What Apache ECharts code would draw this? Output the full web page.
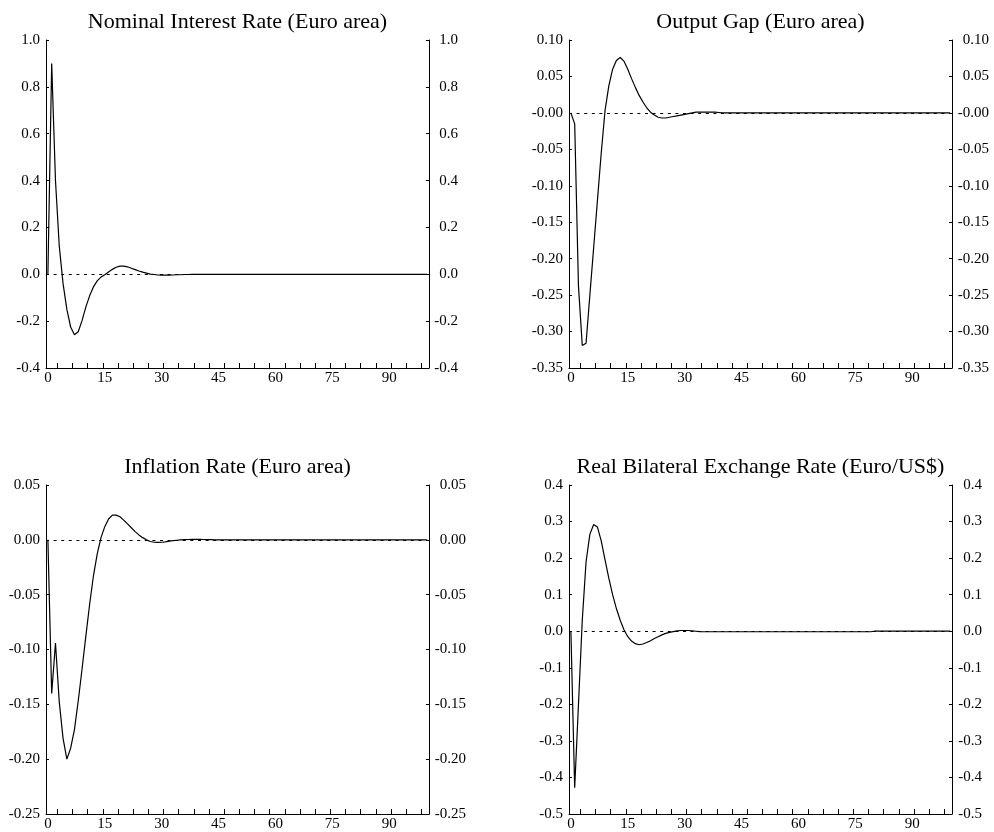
<!DOCTYPE html>
<html>
<head>
<meta charset="utf-8">
<title>Impulse responses</title>
<script src="https://cdn.jsdelivr.net/npm/echarts@6/dist/echarts.min.js"></script>
<style>
html, body { margin: 0; padding: 0; background: #fff; }
#chart { width: 994px; height: 832px; }
</style>
</head>
<body>
<div id="chart"></div>
<script>
// periods 0..100
const periods = Array.from({ length: 101 }, (_, i) => i);
const xLabels = [0, 15, 30, 45, 60, 75, 90];
const xTicks = [2.5, 6.5, 10.5, 14.5, 18.5, 22.5, 26.5, 30.5, 34.5, 38.5, 42.5, 46.5, 50.5,
  54.5, 58.5, 62.5, 66.5, 70.5, 74.5, 78.5, 82.5, 86.5, 90.5, 94.5, 98.5];

const interestRate = [0, 0.90, 0.40, 0.12, -0.04, -0.15, -0.225, -0.258, -0.245, -0.198,
  -0.14, -0.092, -0.054, -0.028, -0.012, -0.002, 0.01, 0.021, 0.03, 0.035,
  0.035, 0.032, 0.026, 0.02, 0.014, 0.009, 0.005, 0.001, -0.001, -0.003,
  -0.004, -0.004, -0.004, -0.003, -0.002, -0.002, -0.001, -0.001, 0, 0,
  0, 0, 0, 0, 0, 0, 0, 0, 0, 0,
  0, 0, 0, 0, 0, 0, 0, 0, 0, 0,
  0, 0, 0, 0, 0, 0, 0, 0, 0, 0,
  0, 0, 0, 0, 0, 0, 0, 0, 0, 0,
  0, 0, 0, 0, 0, 0, 0, 0, 0, 0,
  0, 0, 0, 0, 0, 0, 0, 0, 0, 0, 0];

const outputGap = [0, -0.015, -0.238, -0.319, -0.316, -0.25, -0.185, -0.12, -0.055, 0.003,
  0.037, 0.06, 0.072, 0.076, 0.071, 0.06, 0.047, 0.035, 0.024, 0.015,
  0.007, 0.001, -0.003, -0.006, -0.007, -0.007, -0.006, -0.005, -0.004, -0.003,
  -0.002, -0.001, 0, 0.001, 0.001, 0.001, 0.001, 0.001, 0.001, 0.0005,
  0, 0, 0, 0, 0, 0, 0, 0, 0, 0,
  0, 0, 0, 0, 0, 0, 0, 0, 0, 0,
  0, 0, 0, 0, 0, 0, 0, 0, 0, 0,
  0, 0, 0, 0, 0, 0, 0, 0, 0, 0,
  0, 0, 0, 0, 0, 0, 0, 0, 0, 0,
  0, 0, 0, 0, 0, 0, 0, 0, 0, 0, 0];

const inflation = [0, -0.14, -0.094, -0.148, -0.181, -0.2, -0.19, -0.173, -0.147, -0.118,
  -0.088, -0.059, -0.033, -0.013, 0.002, 0.012, 0.019, 0.0225, 0.0225, 0.021,
  0.018, 0.0145, 0.011, 0.0075, 0.0045, 0.002, 0, -0.0015, -0.0022, -0.0024,
  -0.0022, -0.0018, -0.0013, -0.0008, -0.0004, -0.0001, 0.0001, 0.0003, 0.0004, 0.0004,
  0.0004, 0.0003, 0.0002, 0.0001, 0, 0, 0, 0, 0, 0,
  0, 0, 0, 0, 0, 0, 0, 0, 0, 0,
  0, 0, 0, 0, 0, 0, 0, 0, 0, 0,
  0, 0, 0, 0, 0, 0, 0, 0, 0, 0,
  0, 0, 0, 0, 0, 0, 0, 0, 0, 0,
  0, 0, 0, 0, 0, 0, 0, 0, 0, 0, 0];

const exchangeRate = [0, -0.428, -0.2, 0.03, 0.19, 0.265, 0.292, 0.285, 0.247, 0.195,
  0.145, 0.1, 0.062, 0.03, 0.004, -0.015, -0.027, -0.034, -0.037, -0.035,
  -0.031, -0.026, -0.02, -0.015, -0.01, -0.006, -0.003, -0.001, 0.001, 0.002,
  0.002, 0.002, 0.001, 0, -0.001, -0.0015, -0.0015, -0.0015, -0.0015, -0.0015,
  -0.0015, -0.0015, -0.0015, -0.0015, -0.0015, -0.0015, -0.0015, -0.0015, -0.0015, -0.0015,
  -0.0015, -0.0015, -0.0015, -0.0015, -0.0015, -0.0015, -0.0015, -0.0015, -0.0015, -0.0015,
  -0.0015, -0.0015, -0.0015, -0.0015, -0.0015, -0.0015, -0.0015, -0.0015, -0.0015, -0.0015,
  -0.0015, -0.0015, -0.0015, -0.0015, -0.0015, -0.0015, -0.0015, -0.0015, -0.0015, -0.0015,
  0, 0, 0, 0, 0, 0, 0, 0, 0, 0,
  0, 0, 0, 0, 0, 0, 0, 0, 0, 0, 0];

const font = 'Liberation Serif, Times New Roman, serif';

// rightMargin: right-hand labels are right aligned, so this is where their right edge sits
const panels = [
  { title: 'Nominal Interest Rate (Euro area)', values: interestRate, min: -0.4, max: 1.0, step: 0.2, digits: 1, zero: '0.0',
    left: 46, top: 40, height: 328, rightMargin: 29 },
  { title: 'Output Gap (Euro area)', values: outputGap, min: -0.35, max: 0.10, step: 0.05, digits: 2, zero: '-0.00',
    left: 569, top: 40, height: 328, rightMargin: 37 },
  { title: 'Inflation Rate (Euro area)', values: inflation, min: -0.25, max: 0.05, step: 0.05, digits: 2, zero: '0.00',
    left: 46, top: 485, height: 329, rightMargin: 37 },
  { title: 'Real Bilateral Exchange Rate (Euro/US$)', values: exchangeRate, min: -0.5, max: 0.4, step: 0.1, digits: 1, zero: '0.0',
    left: 569, top: 485, height: 329, rightMargin: 30 }
];

let option = {
  animation: false,
  backgroundColor: '#fff',
  title: [],
  grid: [],
  xAxis: [],
  yAxis: [],
  series: []
};

panels.forEach((p, i) => {
  let fmt = function (v) {
    if (Math.abs(v) < 1e-9) return p.zero;
    return v.toFixed(p.digits);
  };
  let labelStyle = { fontFamily: font, fontSize: 15, color: '#000' };
  option.title.push({
    text: p.title,
    left: p.left + 191.5,
    top: p.top - 29,
    textAlign: 'center',
    padding: 0,
    textStyle: { fontFamily: font, fontSize: 22, fontWeight: 'normal', color: '#000' }
  });
  option.grid.push({
    left: p.left,
    top: p.top,
    width: 383,
    height: p.height,
    containLabel: false,
    outerBoundsMode: 'none'
  });
  option.xAxis.push({
    type: 'value',
    gridIndex: i,
    min: -0.5,
    max: 100.5,
    axisLine: { show: true, onZero: false, lineStyle: { color: '#000', width: 1 } },
    axisTick: { show: true, inside: true, length: 5, customValues: xTicks, lineStyle: { color: '#000' } },
    axisLabel: Object.assign({ margin: 3, customValues: xLabels }, labelStyle),
    splitLine: { show: false }
  });
  ['left', 'right'].forEach(pos => {
    option.yAxis.push({
      type: 'value',
      gridIndex: i,
      position: pos,
      min: p.min,
      max: p.max,
      interval: p.step,
      axisLine: { show: true, onZero: false, lineStyle: { color: '#000', width: 1 } },
      axisTick: { show: true, inside: true, length: 3, lineStyle: { color: '#000' } },
      axisLabel: Object.assign({
        margin: pos === 'left' ? 6 : p.rightMargin,
        align: 'right',
        formatter: fmt
      }, labelStyle),
      splitLine: { show: false }
    });
  });
  option.series.push({
    type: 'line',
    xAxisIndex: i,
    yAxisIndex: i * 2,
    data: periods.map((t, k) => [t, p.values[k]]),
    showSymbol: false,
    symbol: 'none',
    lineStyle: { color: '#000', width: 1.2 },
    markLine: {
      silent: true,
      symbol: ['none', 'none'],
      label: { show: false },
      lineStyle: { color: '#000', width: 1, type: [3, 4.6] },
      data: [{ yAxis: 0 }]
    }
  });
});

let chart = echarts.init(document.getElementById('chart'));
chart.setOption(option);
</script>
</body>
</html>
